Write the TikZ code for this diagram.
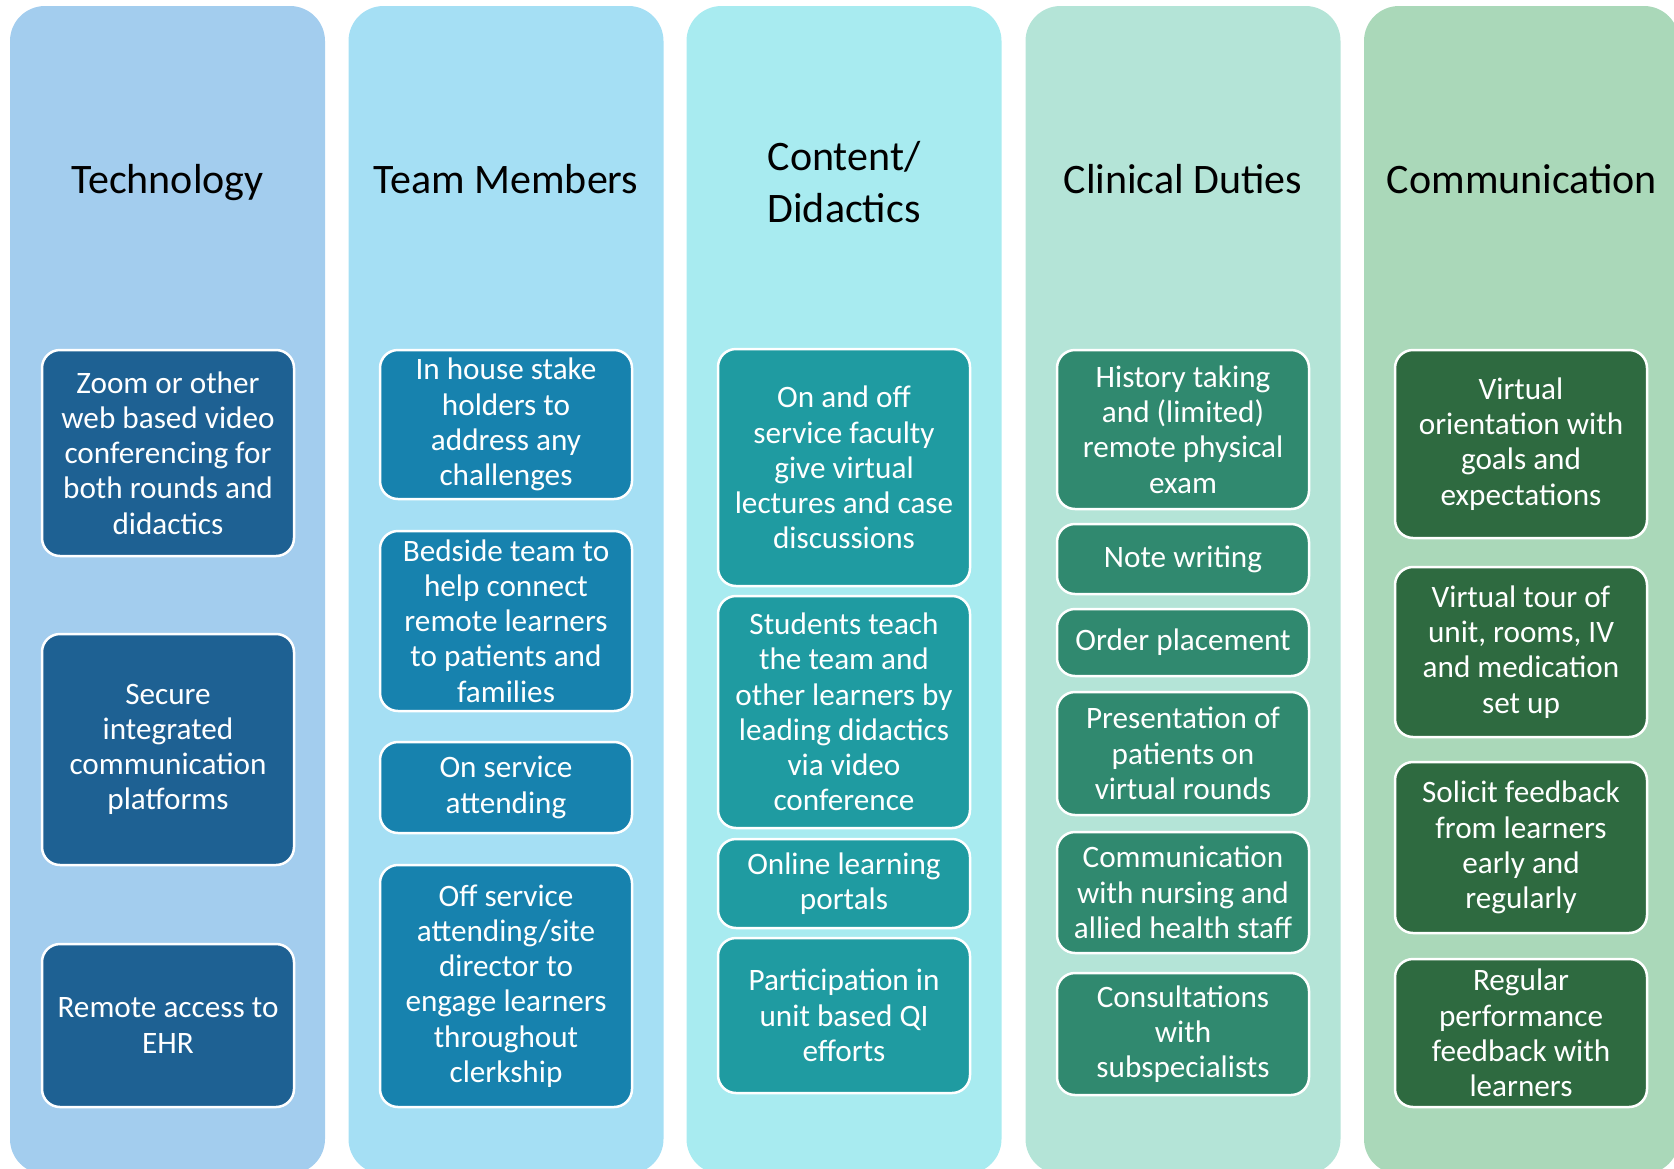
\documentclass[tikz,border=0pt]{standalone}
\usepackage{fontspec}
\setmainfont{Carlito}
\definecolor{bgA}{HTML}{A3CDEE}
\definecolor{bgB}{HTML}{A5DFF4}
\definecolor{bgC}{HTML}{A8EBF0}
\definecolor{bgD}{HTML}{B4E4D7}
\definecolor{bgE}{HTML}{AAD8B9}
\definecolor{bxA}{HTML}{1E6193}
\definecolor{bxB}{HTML}{1782AE}
\definecolor{bxC}{HTML}{1F9BA1}
\definecolor{bxD}{HTML}{30896F}
\definecolor{bxE}{HTML}{2E6A40}
\tikzset{
  colbg/.style={rectangle, rounded corners=17.5pt, minimum width=157.5pt, minimum height=584pt, inner sep=0pt, draw=none},
  coltitle/.style={align=center, text=black, font=\fontsize{21}{26}\selectfont, inner sep=0pt},
  bx/.style={rectangle, rounded corners=9pt, draw=white, line width=1.25pt, minimum width=126pt, inner sep=0pt, align=center, text=white, font=\fontsize{15.6}{17.6}\selectfont},
}
\begin{document}
\begin{tikzpicture}[x=0.5pt,y=-0.5pt]
\useasboundingbox (0,0) rectangle (1674,1168);
% columns
\node[colbg, fill=bgA] (cA) at (167.5,590) {};
\node[colbg, fill=bgB] (cB) at (506,590) {};
\node[colbg, fill=bgC] (cC) at (844,590) {};
\node[colbg, fill=bgD] (cD) at (1183,590) {};
\node[colbg, fill=bgE] (cE) at (1521.5,590) {};
% titles
\node[coltitle, text depth=0pt] (tA) at (167.5,179) {Technology};
\node[coltitle] (tB) at (506,179) {Team Members};
\node[coltitle] (tC) at (844,182) {Content/\\Didactics};
\node[coltitle] (tD) at (1183,179) {Clinical Duties};
\node[coltitle] (tE) at (1522,179) {Communication};
% column 1
\node[bx, fill=bxA, minimum height=103pt] (a1) at (168,453) {Zoom or other\\web based video\\conferencing for\\both rounds and\\didactics};
\node[bx, fill=bxA, minimum height=115.5pt] (a2) at (168,749.5) {Secure\\integrated\\communication\\platforms};
\node[bx, fill=bxA, minimum height=81.5pt] (a3) at (168,1025.5) {Remote access to\\EHR};
% column 2
\node[bx, fill=bxB, minimum height=74.5pt] (b1) at (506,424.5) {In house stake\\holders to\\address any\\challenges};
\node[bx, fill=bxB, minimum height=90pt] (b2) at (506,621) {Bedside team to\\help connect\\remote learners\\to patients and\\families};
\node[bx, fill=bxB, minimum height=45.5pt] (b3) at (506,787.5) {On service\\attending};
\node[bx, fill=bxB, minimum height=121pt] (b4) at (506,986) {Off service\\attending/site\\director to\\engage learners\\throughout\\clerkship};
% column 3
\node[bx, fill=bxC, minimum height=118.5pt] (c1) at (844,467.5) {On and off\\service faculty\\give virtual\\lectures and case\\discussions};
\node[bx, fill=bxC, minimum height=116pt] (c2) at (844,712) {Students teach\\the team and\\other learners by\\leading didactics\\via video\\conference};
\node[bx, fill=bxC, minimum height=44.5pt] (c3) at (844,883.5) {Online learning\\portals};
\node[bx, fill=bxC, minimum height=77.5pt] (c4) at (844,1015.5) {Participation in\\unit based QI\\efforts};
% column 4
\node[bx, fill=bxD, minimum height=79.5pt] (d1) at (1183,429.5) {History taking\\and (limited)\\remote physical\\exam};
\node[bx, fill=bxD, minimum height=35pt] (d2) at (1183,559) {Note writing};
\node[bx, fill=bxD, minimum height=33.5pt] (d3) at (1183,642.5) {Order placement};
\node[bx, fill=bxD, minimum height=61.5pt] (d4) at (1183,753.5) {Presentation of\\patients on\\virtual rounds};
\node[bx, fill=bxD, minimum height=60.5pt] (d5) at (1183,892.5) {Communication\\with nursing and\\allied health staff};
\node[bx, fill=bxD, minimum height=61pt] (d6) at (1183,1034) {Consultations\\with\\subspecialists};
% column 5
\node[bx, fill=bxE, minimum height=94pt] (e1) at (1521,444) {Virtual\\orientation with\\goals and\\expectations};
\node[bx, fill=bxE, minimum height=85pt] (e2) at (1521,652) {Virtual tour of\\unit, rooms, IV\\and medication\\set up};
\node[bx, fill=bxE, minimum height=85.5pt] (e3) at (1521,847.5) {Solicit feedback\\from learners\\early and\\regularly};
\node[bx, fill=bxE, minimum height=74pt] (e4) at (1521,1033) {Regular\\performance\\feedback with\\learners};
\end{tikzpicture}
\end{document}
